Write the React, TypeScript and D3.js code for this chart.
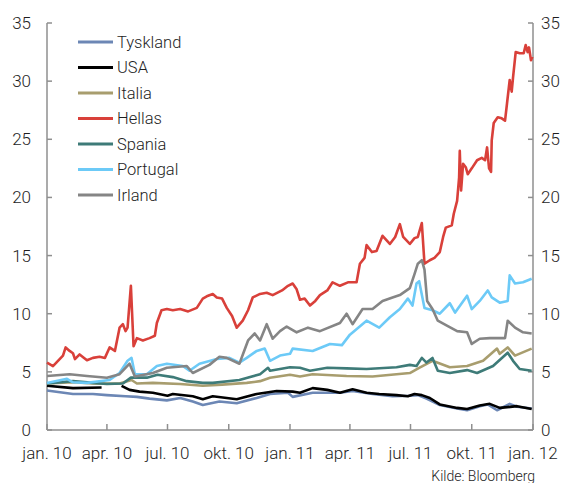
import React from "react";
import * as d3 from "d3";

type Pt = [string, number | null];

const seriesNames = ["Tyskland", "USA", "Italia", "Hellas", "Spania", "Portugal", "Irland"];
const seriesColors = ["#6c87b5", "#000000", "#a89d6e", "#d9403a", "#3e7b78", "#6ccaf7", "#858585"];

const tyskland: Pt[] = [
  ["2010-01-01", 3.4], ["2010-02-09", 3.1], ["2010-03-11", 3.1], ["2010-04-01", 3.0], ["2010-04-29", 2.9],
  ["2010-05-16", 2.85], ["2010-06-04", 2.7], ["2010-06-30", 2.55], ["2010-07-20", 2.75], ["2010-08-08", 2.45],
  ["2010-08-23", 2.15], ["2010-09-17", 2.45], ["2010-10-13", 2.3], ["2010-11-12", 2.75], ["2010-12-02", 3.1],
  ["2010-12-29", 3.2], ["2011-01-05", 2.85], ["2011-02-04", 3.2], ["2011-03-17", 3.2], ["2011-04-05", 3.35],
  ["2011-05-05", 3.1], ["2011-06-04", 2.9], ["2011-06-30", 2.95], ["2011-07-12", 3.0], ["2011-07-25", 2.7],
  ["2011-08-14", 2.15], ["2011-09-09", 1.85], ["2011-09-24", 1.7], ["2011-10-13", 2.05], ["2011-10-25", 2.2],
  ["2011-11-08", 1.7], ["2011-11-27", 2.25], ["2011-12-08", 2.0], ["2011-12-30", 1.85],
];

const usa: Pt[] = [
  ["2010-01-01", 3.8], ["2010-02-09", 3.6], ["2010-03-24", 3.65], ["2010-04-05", null], ["2010-04-23", 3.8],
  ["2010-05-05", 3.45], ["2010-05-20", 3.3], ["2010-06-09", 3.2], ["2010-07-01", 2.95], ["2010-07-09", 3.1],
  ["2010-08-08", 2.9], ["2010-08-23", 2.65], ["2010-09-07", 2.9], ["2010-10-13", 2.65], ["2010-11-12", 3.1],
  ["2010-12-12", 3.35], ["2011-01-05", 3.3], ["2011-01-16", 3.2], ["2011-02-04", 3.6], ["2011-02-26", 3.45],
  ["2011-03-17", 3.2], ["2011-04-05", 3.5], ["2011-04-26", 3.2], ["2011-05-15", 3.1], ["2011-06-10", 3.0],
  ["2011-06-27", 2.9], ["2011-07-07", 3.1], ["2011-07-18", 3.0], ["2011-07-30", 2.75], ["2011-08-14", 2.2],
  ["2011-09-09", 1.9], ["2011-09-24", 1.8], ["2011-10-13", 2.1], ["2011-10-28", 2.25], ["2011-11-12", 1.9],
  ["2011-12-08", 2.05], ["2011-12-30", 1.8],
];

const italia: Pt[] = [
  ["2010-01-01", 4.0], ["2010-02-09", 4.1], ["2010-03-11", 4.0], ["2010-04-20", 4.0], ["2010-05-08", 4.3],
  ["2010-05-16", 4.0], ["2010-06-09", 4.05], ["2010-07-20", 3.95], ["2010-08-23", 3.8], ["2010-09-21", 3.9],
  ["2010-10-28", 4.05], ["2010-11-17", 4.2], ["2010-12-02", 4.5], ["2011-01-01", 4.75], ["2011-01-16", 4.6],
  ["2011-02-04", 4.8], ["2011-03-27", 4.65], ["2011-05-05", 4.6], ["2011-06-30", 4.9], ["2011-07-14", 5.35],
  ["2011-08-03", 5.95], ["2011-08-29", 5.4], ["2011-09-24", 5.5], ["2011-10-18", 5.95], ["2011-11-08", 7.0],
  ["2011-11-12", 6.55], ["2011-11-24", 7.1], ["2011-12-05", 6.4], ["2011-12-30", 7.0],
];

const hellas: Pt[] = [
  ["2010-01-01", 5.8], ["2010-01-10", 5.5], ["2010-01-25", 6.4], ["2010-01-29", 7.1], ["2010-02-04", 6.8],
  ["2010-02-09", 6.6], ["2010-02-12", 6.1], ["2010-02-19", 6.5], ["2010-03-02", 6.0], ["2010-03-11", 6.2],
  ["2010-03-21", 6.3], ["2010-03-29", 6.2], ["2010-04-05", 7.1], ["2010-04-13", 6.8], ["2010-04-20", 8.8],
  ["2010-04-25", 9.1], ["2010-04-29", 8.5], ["2010-05-02", 8.8], ["2010-05-07", 12.4], ["2010-05-11", 7.2],
  ["2010-05-16", 7.9], ["2010-05-25", 7.7], ["2010-06-04", 7.9], ["2010-06-12", 8.1], ["2010-06-15", 9.2],
  ["2010-06-22", 10.3], ["2010-06-30", 10.4], ["2010-07-09", 10.3], ["2010-07-20", 10.4], ["2010-08-01", 10.2],
  ["2010-08-14", 10.5], ["2010-08-23", 11.3], ["2010-08-29", 11.5], ["2010-09-07", 11.7], ["2010-09-13", 11.4],
  ["2010-09-21", 11.3], ["2010-09-28", 10.5], ["2010-10-06", 9.8], ["2010-10-13", 8.8], ["2010-10-22", 9.4],
  ["2010-10-30", 10.3], ["2010-11-06", 11.4], ["2010-11-17", 11.7], ["2010-11-27", 11.8], ["2010-12-06", 11.6],
  ["2010-12-20", 12.0], ["2010-12-29", 12.4], ["2011-01-05", 12.6], ["2011-01-11", 12.1], ["2011-01-16", 11.2],
  ["2011-01-23", 11.3], ["2011-01-31", 10.7], ["2011-02-08", 11.1], ["2011-02-15", 11.6], ["2011-02-26", 12.0],
  ["2011-03-06", 12.7], ["2011-03-17", 12.4], ["2011-03-29", 12.7], ["2011-04-11", 12.7], ["2011-04-16", 14.3],
  ["2011-04-23", 14.8], ["2011-04-26", 15.9], ["2011-05-04", 15.3], ["2011-05-11", 15.4], ["2011-05-20", 16.7],
  ["2011-05-31", 16.0], ["2011-06-08", 16.6], ["2011-06-15", 17.7], ["2011-06-20", 16.6], ["2011-06-30", 16.0],
  ["2011-07-07", 16.5], ["2011-07-12", 16.6], ["2011-07-18", 17.8], ["2011-07-22", 14.3], ["2011-07-30", 14.6],
  ["2011-08-06", 14.8], ["2011-08-14", 15.3], ["2011-08-19", 16.6], ["2011-08-23", 17.4], ["2011-09-01", 17.6],
  ["2011-09-04", 18.6], ["2011-09-09", 19.7], ["2011-09-12", 21.7], ["2011-09-13", 24.0], ["2011-09-15", 20.6],
  ["2011-09-18", 22.9], ["2011-09-22", 22.6], ["2011-09-25", 22.0], ["2011-10-01", 22.5], ["2011-10-09", 23.2],
  ["2011-10-16", 23.4], ["2011-10-21", 23.2], ["2011-10-24", 24.3], ["2011-10-27", 22.5], ["2011-10-30", 22.2],
  ["2011-10-31", 24.9], ["2011-11-03", 26.4], ["2011-11-09", 26.9], ["2011-11-15", 26.8], ["2011-11-20", 26.6],
  ["2011-11-23", 28.1], ["2011-11-27", 30.1], ["2011-11-30", 29.1], ["2011-12-02", 30.3], ["2011-12-06", 32.5],
  ["2011-12-12", 32.4], ["2011-12-18", 32.4], ["2011-12-21", 33.1], ["2011-12-24", 32.5], ["2011-12-26", 32.9],
  ["2011-12-29", 31.8], ["2011-12-31", 32.1],
];

const spania: Pt[] = [
  ["2010-01-01", 4.0], ["2010-02-09", 4.2], ["2010-03-11", 4.05], ["2010-04-01", 3.95], ["2010-04-25", 4.0],
  ["2010-05-07", 4.5], ["2010-05-31", 4.5], ["2010-06-16", 4.75], ["2010-07-09", 4.55], ["2010-07-30", 4.2],
  ["2010-08-23", 4.05], ["2010-09-07", 4.05], ["2010-10-17", 4.3], ["2010-11-17", 4.8], ["2010-11-29", 5.35],
  ["2010-12-02", 5.1], ["2011-01-01", 5.4], ["2011-01-16", 5.35], ["2011-01-31", 5.1], ["2011-02-26", 5.35],
  ["2011-03-27", 5.3], ["2011-04-26", 5.25], ["2011-06-10", 5.4], ["2011-06-30", 5.6], ["2011-07-10", 5.5],
  ["2011-07-18", 6.2], ["2011-07-25", 5.8], ["2011-08-03", 6.2], ["2011-08-11", 5.1], ["2011-08-29", 4.9],
  ["2011-09-24", 5.15], ["2011-10-09", 4.9], ["2011-11-02", 5.5], ["2011-11-24", 6.65], ["2011-12-02", 5.95],
  ["2011-12-12", 5.25], ["2011-12-30", 5.1],
];

const portugal: Pt[] = [
  ["2010-01-01", 4.05], ["2010-01-31", 4.4], ["2010-02-09", 4.1], ["2010-03-02", 4.05], ["2010-04-05", 4.3],
  ["2010-04-20", 4.9], ["2010-05-02", 5.95], ["2010-05-08", 6.2], ["2010-05-13", 4.8], ["2010-05-31", 4.8],
  ["2010-06-15", 5.5], ["2010-06-30", 5.7], ["2010-07-24", 5.5], ["2010-08-03", 5.1], ["2010-08-18", 5.7],
  ["2010-09-13", 6.1], ["2010-10-02", 6.2], ["2010-10-17", 5.8], ["2010-10-28", 6.2], ["2010-11-12", 6.8],
  ["2010-11-24", 7.0], ["2010-12-02", 5.95], ["2010-12-17", 6.4], ["2011-01-01", 6.55], ["2011-01-05", 7.0],
  ["2011-02-04", 6.8], ["2011-03-02", 7.4], ["2011-03-20", 7.3], ["2011-04-01", 8.2], ["2011-04-26", 9.4],
  ["2011-05-15", 8.8], ["2011-05-31", 9.7], ["2011-06-15", 10.4], ["2011-06-27", 11.3], ["2011-07-04", 10.7],
  ["2011-07-10", 12.6], ["2011-07-14", 12.8], ["2011-07-22", 10.5], ["2011-08-03", 10.3], ["2011-08-14", 10.0],
  ["2011-08-29", 10.9], ["2011-09-06", 10.1], ["2011-09-24", 11.55], ["2011-10-01", 10.4], ["2011-10-13", 11.1],
  ["2011-10-25", 12.0], ["2011-10-31", 11.4], ["2011-11-12", 10.95], ["2011-11-24", 11.1], ["2011-11-27", 13.3],
  ["2011-12-05", 12.6], ["2011-12-17", 12.7], ["2011-12-30", 13.0],
];

const irland: Pt[] = [
  ["2010-01-01", 4.65], ["2010-02-04", 4.8], ["2010-03-02", 4.65], ["2010-04-01", 4.5], ["2010-04-20", 4.8],
  ["2010-05-05", 5.7], ["2010-05-13", 4.6], ["2010-06-09", 4.9], ["2010-06-30", 5.35], ["2010-07-30", 5.5],
  ["2010-08-08", 4.9], ["2010-09-02", 5.6], ["2010-09-17", 6.3], ["2010-09-28", 6.2], ["2010-10-17", 5.7],
  ["2010-10-30", 7.7], ["2010-11-09", 8.3], ["2010-11-17", 7.7], ["2010-11-27", 9.1], ["2010-12-06", 7.85],
  ["2010-12-17", 8.5], ["2010-12-27", 8.9], ["2011-01-11", 8.4], ["2011-01-28", 8.8], ["2011-02-15", 8.5],
  ["2011-03-17", 9.2], ["2011-03-27", 10.0], ["2011-04-05", 9.1], ["2011-04-20", 10.4], ["2011-05-05", 10.4],
  ["2011-05-20", 11.1], ["2011-06-04", 11.4], ["2011-06-15", 11.6], ["2011-06-30", 12.2], ["2011-07-07", 13.4],
  ["2011-07-12", 14.3], ["2011-07-18", 14.6], ["2011-07-22", 13.8], ["2011-07-26", 11.1], ["2011-08-03", 10.4],
  ["2011-08-11", 9.4], ["2011-08-24", 9.0], ["2011-09-09", 8.5], ["2011-09-24", 8.4], ["2011-10-01", 7.4],
  ["2011-10-13", 7.85], ["2011-10-28", 7.9], ["2011-11-20", 7.9], ["2011-11-24", 9.4], ["2011-12-05", 8.8],
  ["2011-12-17", 8.4], ["2011-12-30", 8.3],
];

const seriesData = [tyskland, usa, italia, hellas, spania, portugal, irland];

const xTickLabels = ["jan. 10", "apr. 10", "jul. 10", "okt. 10", "jan. 11", "apr. 11", "jul. 11", "okt. 11", "jan. 12"];
const yTickValues = [0, 5, 10, 15, 20, 25, 30, 35];
const sourceText = "Kilde: Bloomberg";

const parse = d3.timeParse("%Y-%m-%d");

export default function App() {
  const W = 571;
  const H = 483;
  const left = 47;
  const right = 533;
  const top = 23;
  const bottom = 430;

  const x = d3.scaleTime().domain([new Date(2010, 0, 1), new Date(2012, 0, 1)]).range([left, right]);
  const y = d3.scaleLinear().domain([0, 35]).range([bottom, top]);
  const xTicks = x.ticks(d3.timeMonth.every(3) as any);

  const line = d3
    .line<Pt>()
    .defined((d) => d[1] !== null)
    .x((d) => x(parse(d[0]) as Date))
    .y((d) => y(d[1] as number));

  const axisColor = "#8f8f8f";
  const font = "Roboto, 'Liberation Sans', sans-serif";
  const textColor = "#1e1e1e";

  return (
    <svg width={W} height={H} style={{ position: "absolute", left: 0, top: 0, background: "#fff" }}>
      {/* axes */}
      <line x1={left} x2={left} y1={top} y2={bottom} stroke={axisColor} strokeWidth={1.5} />
      <line x1={right} x2={right} y1={top} y2={bottom} stroke={axisColor} strokeWidth={1.5} />
      <line x1={left} x2={right} y1={bottom} y2={bottom} stroke={axisColor} strokeWidth={1.5} />
      {yTickValues.map((v) => (
        <g key={"y" + v}>
          <line x1={left} x2={left + 5} y1={y(v)} y2={y(v)} stroke={axisColor} strokeWidth={1.5} />
          <line x1={right - 5} x2={right} y1={y(v)} y2={y(v)} stroke={axisColor} strokeWidth={1.5} />
          <text x={31} y={y(v)} textAnchor="end" dominantBaseline="central" fontFamily={font} fontWeight={300} fontSize={17} fill={textColor}>
            {v}
          </text>
          <text x={541} y={y(v)} textAnchor="start" dominantBaseline="central" fontFamily={font} fontWeight={300} fontSize={17} fill={textColor}>
            {v}
          </text>
        </g>
      ))}
      {xTicks.map((d, i) => (
        <g key={"x" + i}>
          <line x1={x(d)} x2={x(d)} y1={bottom} y2={bottom - 6} stroke={axisColor} strokeWidth={1.5} />
          <text x={x(d)} y={453} textAnchor="middle" dominantBaseline="central" fontFamily={font} fontWeight={300} fontSize={17} fill={textColor}>
            {xTickLabels[i]}
          </text>
        </g>
      ))}
      {/* series */}
      {seriesData.map((s, i) => (
        <path key={seriesNames[i]} d={line(s) || ""} fill="none" stroke={seriesColors[i]} strokeWidth={2.6} strokeLinejoin="round" />
      ))}
      {/* legend */}
      {seriesNames.map((n, i) => (
        <g key={"lg" + n}>
          <line x1={78} x2={113} y1={42 + i * 25.5} y2={42 + i * 25.5} stroke={seriesColors[i]} strokeWidth={3} />
          <text x={117} y={42 + i * 25.5} dominantBaseline="central" fontFamily={font} fontWeight={300} fontSize={16.5} fill={textColor}>
            {n}
          </text>
        </g>
      ))}
      <text x={535} y={476} textAnchor="end" dominantBaseline="central" fontFamily={font} fontWeight={300} fontSize={14} fill={textColor}>
        {sourceText}
      </text>
    </svg>
  );
}
